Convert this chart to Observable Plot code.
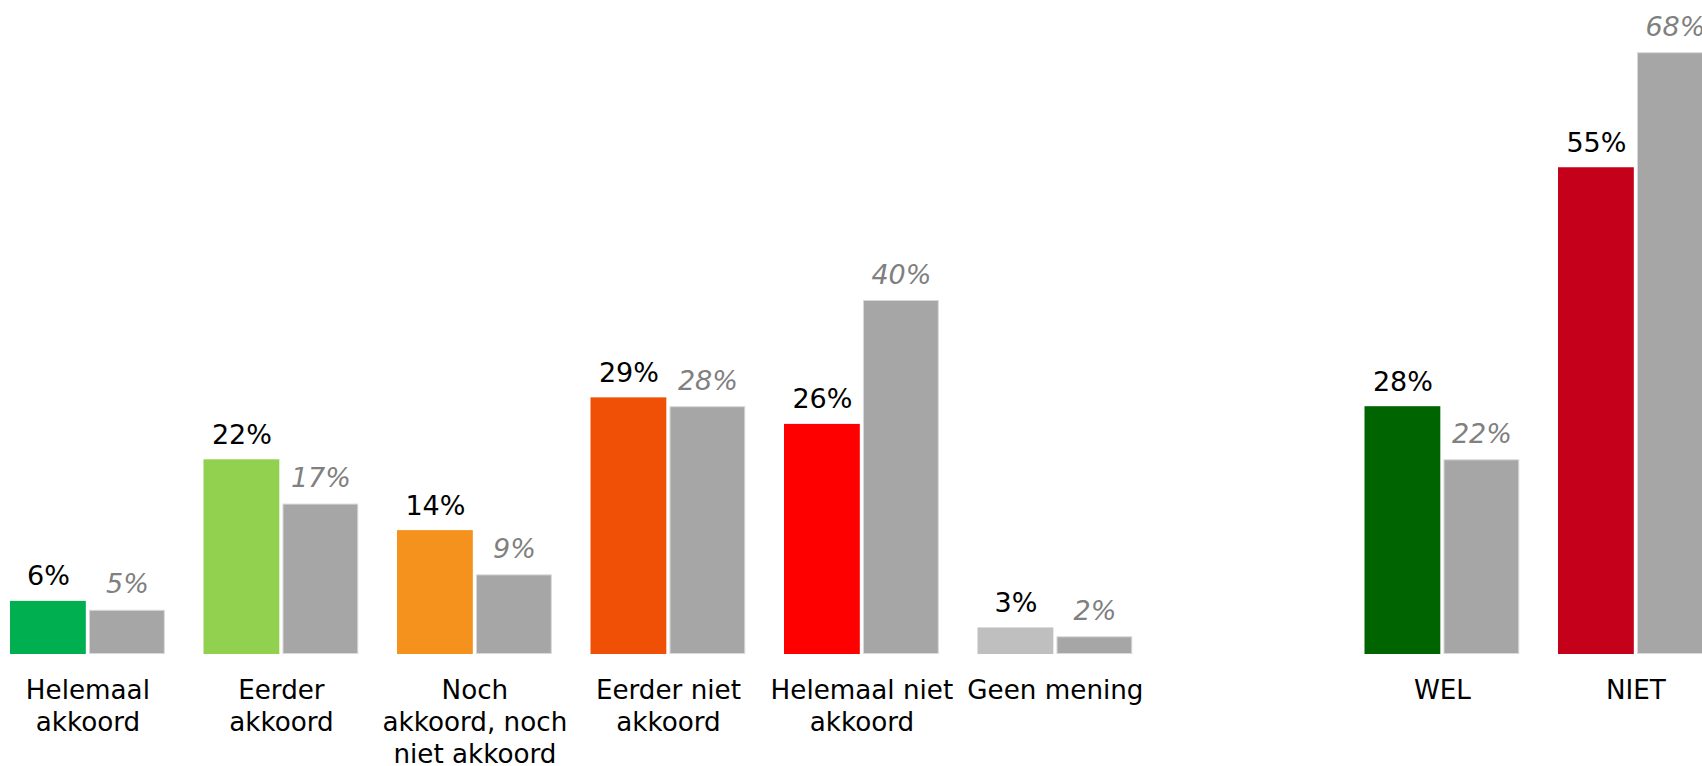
<!DOCTYPE html>
<html><head><meta charset="utf-8">
<script src="https://cdn.jsdelivr.net/npm/d3@7"></script>
<script src="https://cdn.jsdelivr.net/npm/@observablehq/plot@0.6"></script>
<style>
html,body{margin:0;padding:0;background:#fff;overflow:hidden}
#chart svg{max-width:none;display:block}
</style>
</head><body><div id="chart"></div>
<script>
const categories = ["Helemaal akkoord", "Eerder akkoord", "Noch akkoord, noch niet akkoord", "Eerder niet akkoord", "Helemaal niet akkoord", "Geen mening", "gap", "WEL", "NIET"];
const tickLabels = ["Helemaal\nakkoord", "Eerder\nakkoord", "Noch\nakkoord, noch\nniet akkoord", "Eerder niet\nakkoord", "Helemaal niet\nakkoord", "Geen mening", "", "WEL", "NIET"];
const currentValues = [6, 22, 14, 29, 26, 3, null, 28, 55];
const previousValues = [5, 17, 9, 28, 40, 2, null, 22, 68];
const currentColors = ["#00B050", "#92D050", "#F5921E", "#F05006", "#FF0000", "#BFBFBF", null, "#006400", "#C4001A"];
const previousColor = "#A6A6A6";
const seriesKeys = ["current", "previous"];

const rows = [];
categories.forEach((c, i) => {
  if (currentValues[i] == null) return;
  rows.push({cat: c, series: "current", value: currentValues[i], color: currentColors[i]});
  rows.push({cat: c, series: "previous", value: previousValues[i], color: previousColor});
});
const labelMap = new Map(categories.map((c, i) => [c, tickLabels[i]]));
const cur = rows.filter(d => d.series === "current");
const prev = rows.filter(d => d.series === "previous");

const chart = Plot.plot({
  width: 1702,
  height: 766,
  marginLeft: 10,
  marginRight: 0,
  marginTop: 34.5,
  marginBottom: 112,
  style: {fontFamily: "'DejaVu Sans', Verdana, sans-serif", background: "white"},
  fx: {domain: categories, range: [10, 1712.8], paddingInner: 0.2, paddingOuter: 0, round: false, axis: null},
  x: {domain: seriesKeys, paddingInner: 0.04, paddingOuter: 0, round: false, axis: null},
  y: {domain: [0, 70], axis: null},
  color: {type: "identity"},
  marks: [
    Plot.barY(cur, {fx: "cat", x: "series", y: "value", fill: "color"}),
    Plot.barY(prev, {fx: "cat", x: "series", y: "value", fill: "color", stroke: "#D9D9D9", strokeWidth: 1, inset: 0.5}),
    Plot.text(cur, {fx: "cat", x: "series", y: "value", text: d => d.value + "%", lineAnchor: "bottom", dy: -16, fontSize: 27, fill: "#000"}),
    Plot.text(prev, {fx: "cat", x: "series", y: "value", text: d => d.value + "%", lineAnchor: "bottom", dy: -17, fontSize: 27, fontStyle: "italic", fill: "#808080"}),
    Plot.axisFx({anchor: "bottom", tickSize: 0, tickPadding: 22, fontSize: 26.2, lineHeight: 1.22, tickFormat: k => labelMap.get(k), label: null})
  ]
});
document.getElementById("chart").appendChild(chart);
</script>
</body></html>
